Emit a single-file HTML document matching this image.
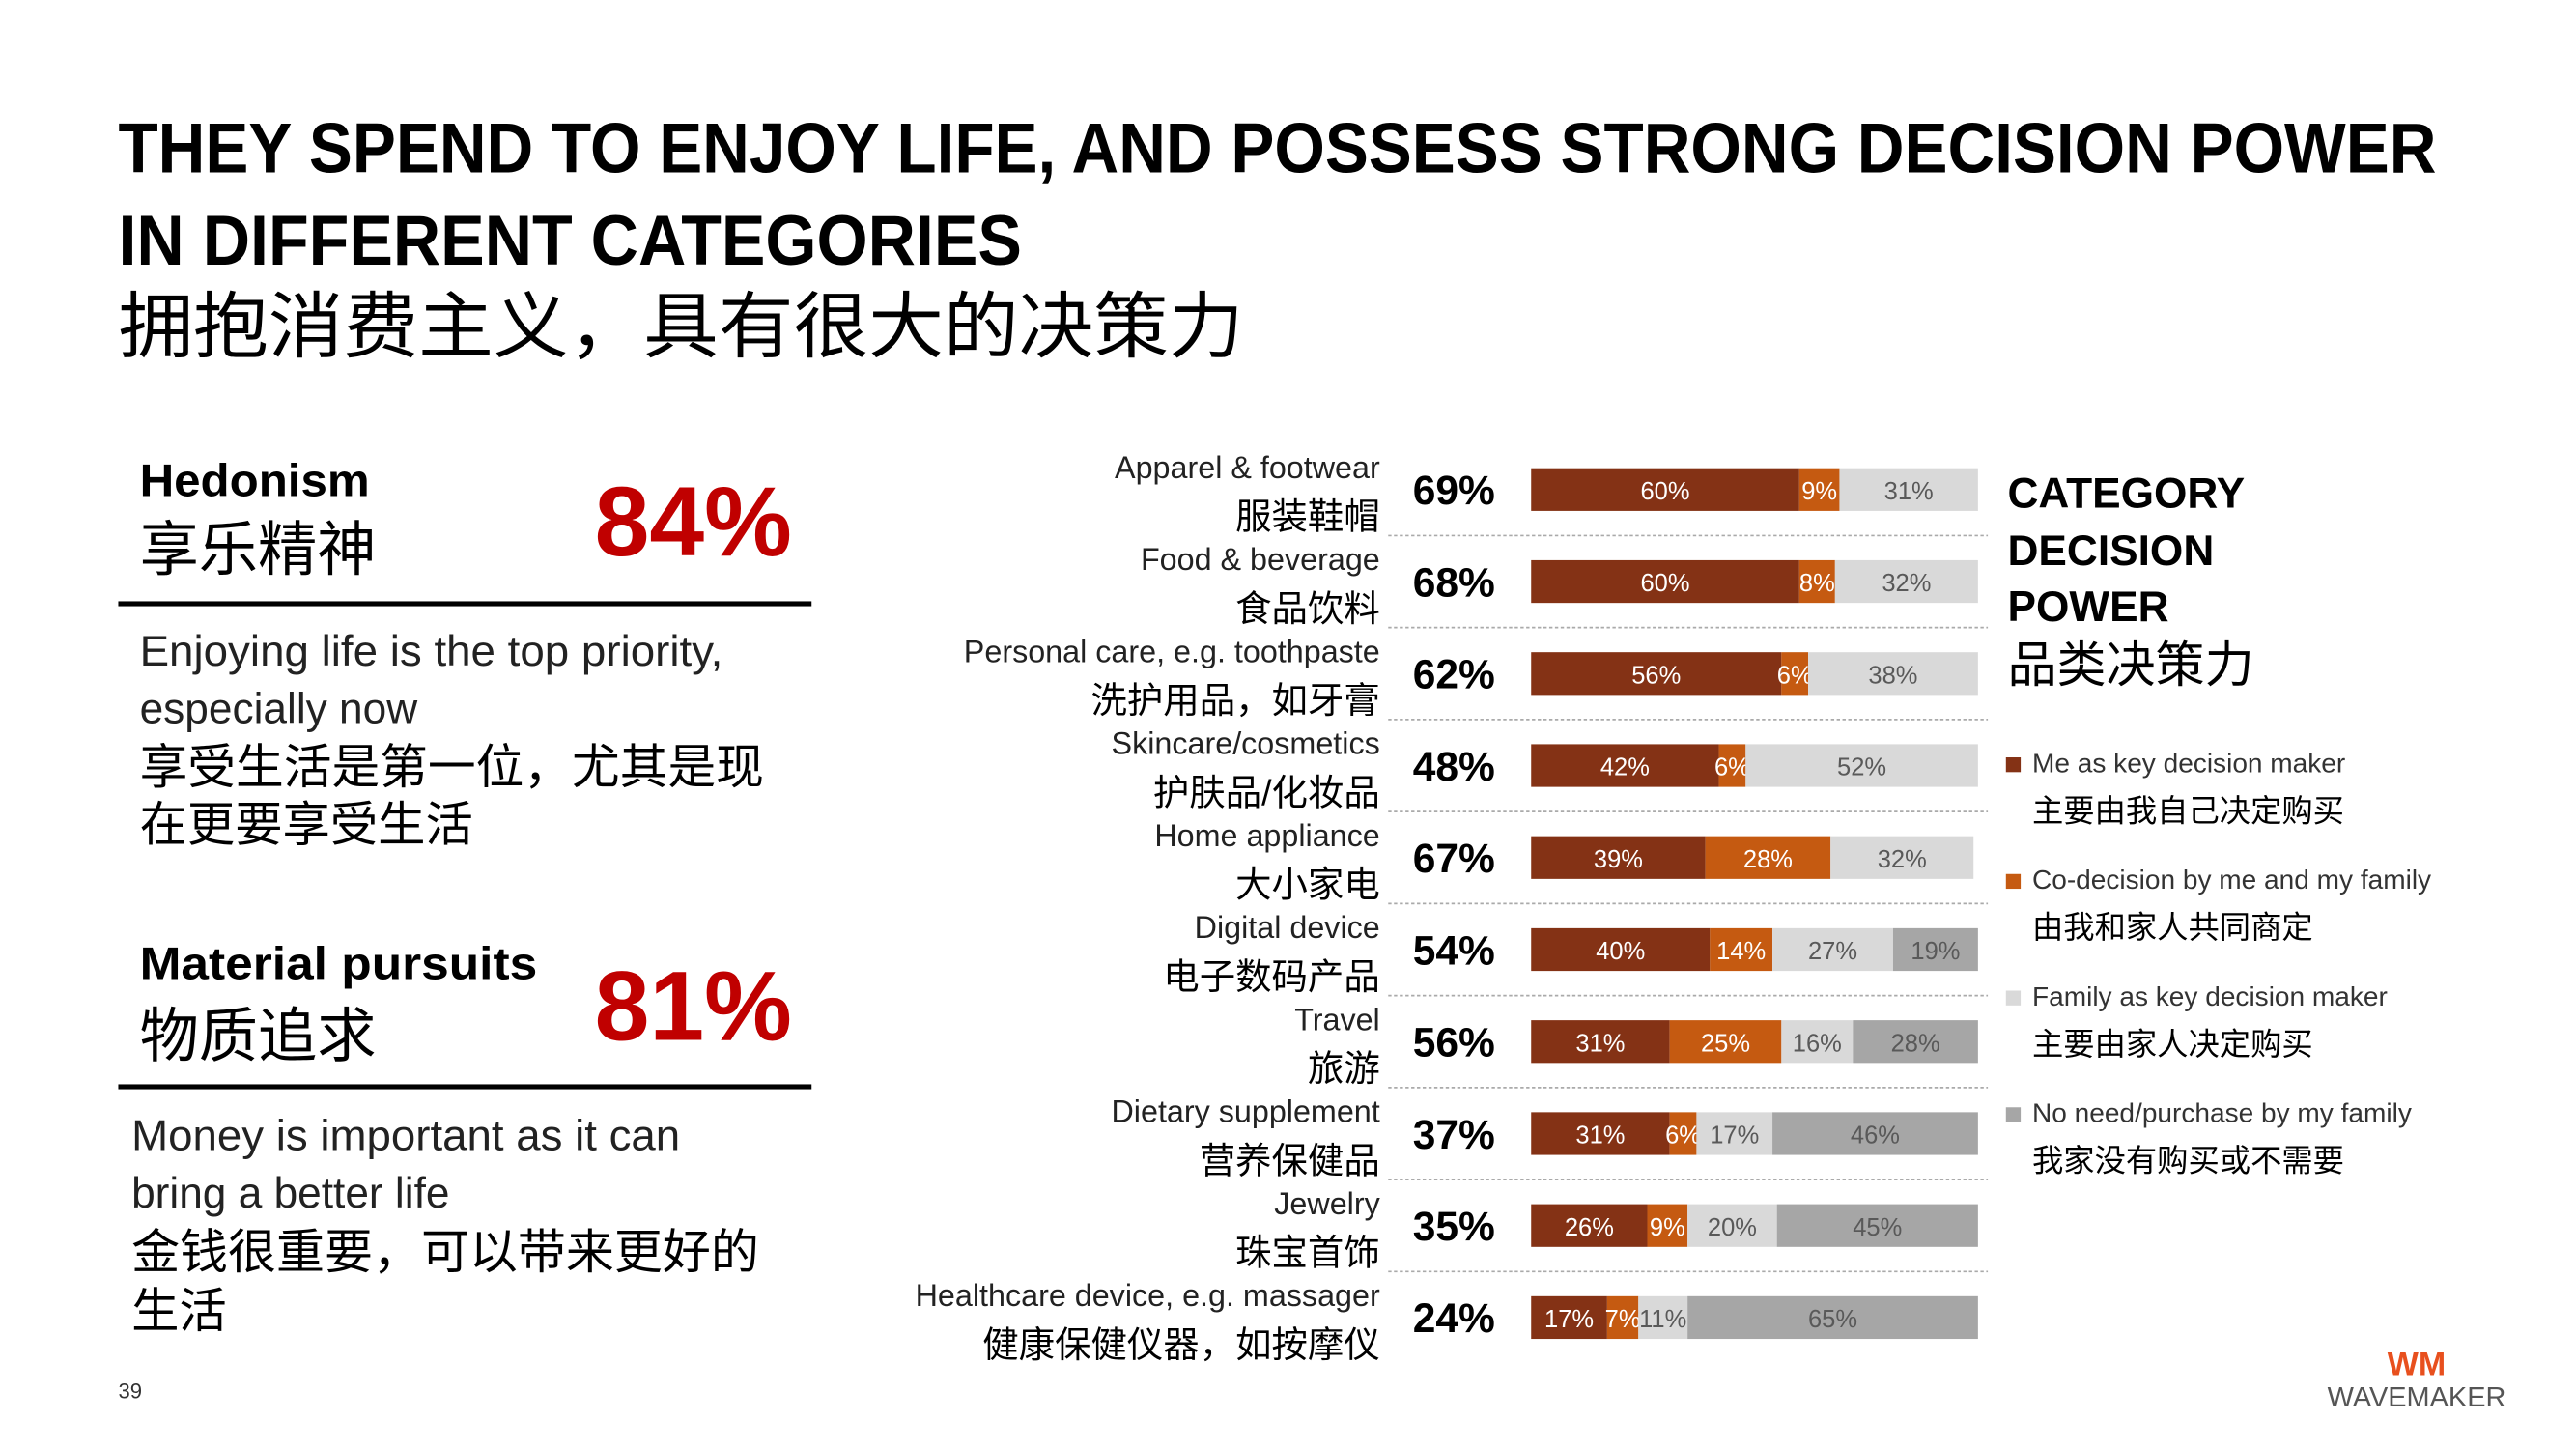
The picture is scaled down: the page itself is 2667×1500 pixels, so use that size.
<!DOCTYPE html>
<html><head><meta charset="utf-8"><style>
html,body{margin:0;padding:0;background:#fff;width:2667px;height:1500px;overflow:hidden}
svg{display:block}
text{font-family:"Liberation Sans","Noto Sans CJK SC",sans-serif}
</style></head><body>
<svg id="s" width="2667" height="1500" viewBox="0 0 1568 882" preserveAspectRatio="none" xmlns="http://www.w3.org/2000/svg">
<g>
<text x="72" y="105" font-size="43" font-weight="bold" fill="#000" textLength="1411" lengthAdjust="spacingAndGlyphs">THEY SPEND TO ENJOY LIFE, AND POSSESS STRONG DECISION POWER</text>
<text x="72" y="161" font-size="43" font-weight="bold" fill="#000" textLength="550" lengthAdjust="spacingAndGlyphs">IN DIFFERENT CATEGORIES</text>
<text x="72" y="214" font-size="44" fill="#000" textLength="685" lengthAdjust="spacingAndGlyphs">拥抱消费主义，具有很大的决策力</text>
</g>
<g>
<text x="85" y="302" font-size="28" font-weight="bold" textLength="140" lengthAdjust="spacingAndGlyphs">Hedonism</text>
<text x="85" y="347" font-size="36">享乐精神</text>
<text x="482" y="338" font-size="60" font-weight="bold" fill="#c00000" text-anchor="end">84%</text>
<rect x="72" y="366" width="422" height="3" fill="#000"/>
<text x="85" y="405" font-size="26" fill="#222" textLength="355" lengthAdjust="spacingAndGlyphs">Enjoying life is the top priority,</text>
<text x="85" y="440" font-size="26" fill="#222">especially now</text>
<text x="85" y="477" font-size="29" fill="#000" textLength="380" lengthAdjust="spacingAndGlyphs">享受生活是第一位，尤其是现</text>
<text x="85" y="512" font-size="29" fill="#000">在更要享受生活</text>
</g>
<g>
<text x="85" y="596" font-size="28" font-weight="bold" textLength="242" lengthAdjust="spacingAndGlyphs">Material pursuits</text>
<text x="85" y="643" font-size="36">物质追求</text>
<text x="482" y="633" font-size="60" font-weight="bold" fill="#c00000" text-anchor="end">81%</text>
<rect x="72" y="660" width="422" height="3" fill="#000"/>
<text x="80" y="700" font-size="26" fill="#222" textLength="334" lengthAdjust="spacingAndGlyphs">Money is important as it can</text>
<text x="80" y="735" font-size="26" fill="#222">bring a better life</text>
<text x="80" y="772" font-size="29" fill="#000" textLength="382" lengthAdjust="spacingAndGlyphs">金钱很重要，可以带来更好的</text>
<text x="80" y="808" font-size="29" fill="#000">生活</text>
</g>
<text x="72" y="851" font-size="13" fill="#333">39</text>
<g id="chart"></g>
<g>
<text x="1222" y="309" font-size="26" font-weight="bold">CATEGORY</text>
<text x="1222" y="344" font-size="26" font-weight="bold">DECISION</text>
<text x="1222" y="378" font-size="26" font-weight="bold">POWER</text>
<text x="1222" y="415" font-size="30">品类决策力</text>
</g>
<g id="legend"></g>
<g>
<text x="1471" y="837" font-size="20" font-weight="bold" fill="#e8501e" text-anchor="middle">WM</text>
<text x="1471" y="856" font-size="17" fill="#555" text-anchor="middle">WAVEMAKER</text>
</g>
</svg>
<script>
const categoriesEn = ["Apparel & footwear","Food & beverage","Personal care, e.g. toothpaste","Skincare/cosmetics","Home appliance","Digital device","Travel","Dietary supplement","Jewelry","Healthcare device, e.g. massager"];
const categoriesZh = ["服装鞋帽","食品饮料","洗护用品，如牙膏","护肤品/化妆品","大小家电","电子数码产品","旅游","营养保健品","珠宝首饰","健康保健仪器，如按摩仪"];
const totals = [69,68,62,48,67,54,56,37,35,24];
const meKey = [60,60,56,42,39,40,31,31,26,17];
const coDecision = [9,8,6,6,28,14,25,6,9,7];
const familyKey = [31,32,38,52,32,27,16,17,20,11];
const noNeed = [0,0,0,0,0,19,28,46,45,65];
const seriesNames = ["Me as key decision maker","Co-decision by me and my family","Family as key decision maker","No need/purchase by my family"];
const seriesZh = ["主要由我自己决定购买","由我和家人共同商定","主要由家人决定购买","我家没有购买或不需要"];

const NS="http://www.w3.org/2000/svg";
const colors=["#843215","#c55a11","#d9d9d9","#a6a6a6"];
const txtCol=["#fff","#fff","#595959","#595959"];
const x0=932, W=272;
const xs=v=>v/100*W;
const yc=i=>298+56*i;
function mk(tag,attrs,parent){const e=document.createElementNS(NS,tag);for(const k in attrs)e.setAttribute(k,attrs[k]);parent.appendChild(e);return e;}
const chart=document.getElementById('chart');
const series=[meKey,coDecision,familyKey,noNeed];
categoriesEn.forEach((c,i)=>{
  const y=yc(i);
  const t1=mk('text',{x:840,y:y-7,'font-size':19,fill:'#222','text-anchor':'end'},chart);t1.textContent=c;
  
  
  const t2=mk('text',{x:840,y:y+24,'font-size':22,fill:'#000','text-anchor':'end'},chart);t2.textContent=categoriesZh[i];
  
  
  const tt=mk('text',{x:860,y:y+9,'font-size':25,'font-weight':'bold',fill:'#000'},chart);tt.textContent=totals[i]+'%';
  
  
  let cx=x0;
  series.forEach((s,k)=>{
    const v=s[i]; if(!v)return;
    const w=xs(v);
    const r=mk('rect',{x:cx,y:y-13,width:w,height:26,fill:colors[k]},chart);
    
    
    const lt=mk('text',{x:cx+w/2,y:y+6,'font-size':15,fill:txtCol[k],'text-anchor':'middle'},chart);lt.textContent=v+'%';
    
    
    cx+=w;
  });
  if(i<categoriesEn.length-1){
    const l=mk('line',{x1:845,x2:1210,y1:y+28,y2:y+28,stroke:'#aaa','stroke-width':1,'stroke-dasharray':'2,1.5'},chart);
    
    
  }
});
const lg=document.getElementById('legend');
seriesNames.forEach((n,k)=>{
  const y=470+71*k;
  const r=mk('rect',{x:1221,y:y-9,width:9,height:9,fill:colors[k]},lg);
  
  
  const t=mk('text',{x:1237,y:y,'font-size':16.5,fill:'#333'},lg);t.textContent=n;
  
  
  const t2=mk('text',{x:1237,y:y+30,'font-size':19,fill:'#000'},lg);t2.textContent=seriesZh[k];
  
  
});
</script>
</body></html>
